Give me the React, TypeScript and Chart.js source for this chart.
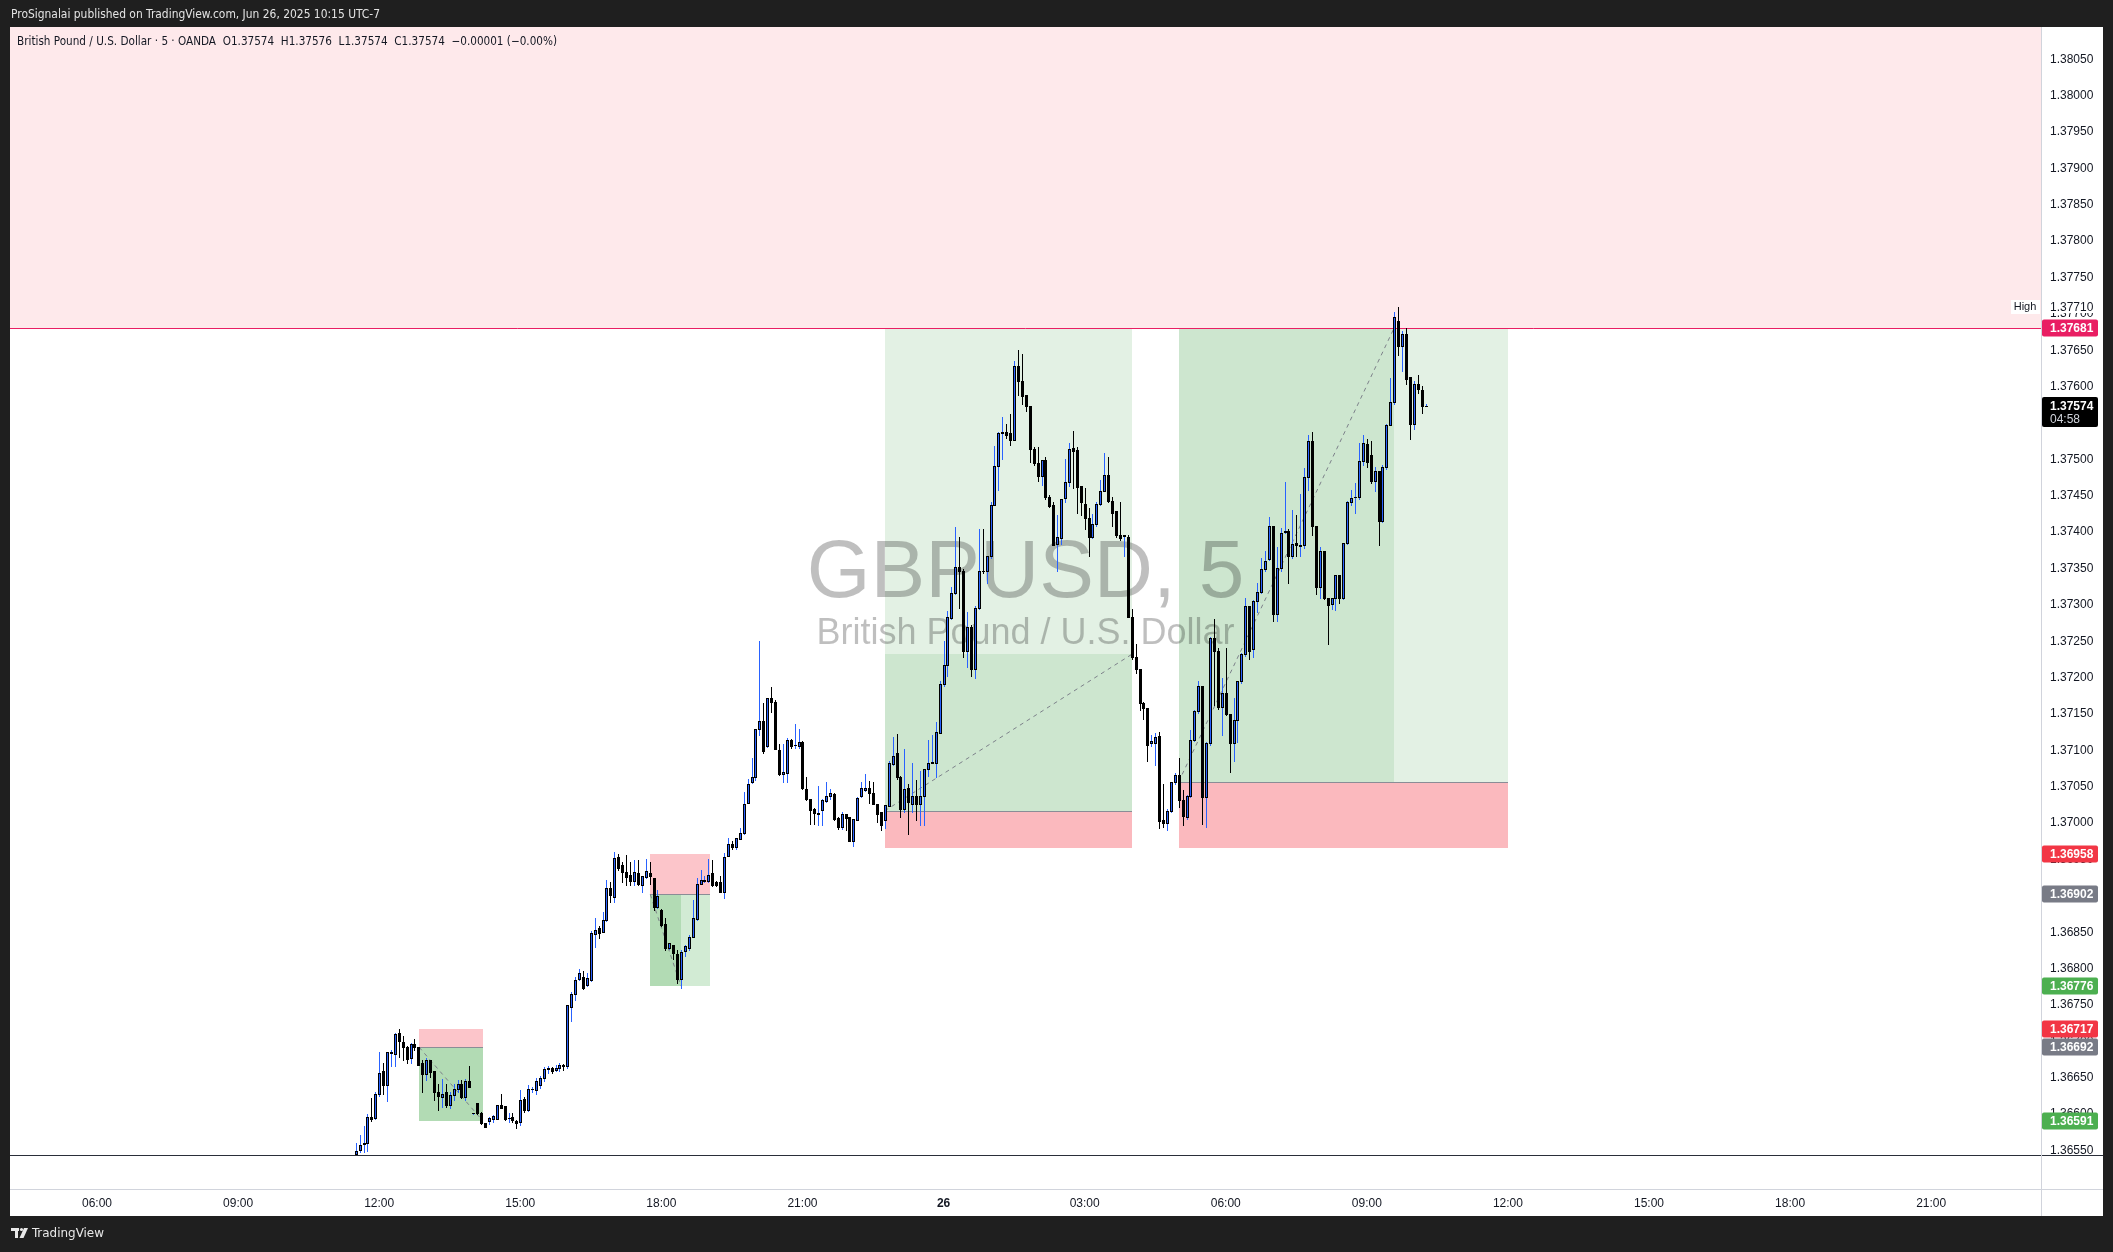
import React, { useEffect, useRef } from "react";
import { Chart, registerables } from "chart.js";

Chart.register(...registerables);

// ---------------- DATA ----------------
const SYMBOL = "GBPUSD, 5";
const SYMBOL_DESC = "British Pound / U.S. Dollar";
const HEADER_TEXT = "ProSignalai published on TradingView.com, Jun 26, 2025 10:15 UTC-7";
const LEGEND_TEXT = "British Pound / U.S. Dollar \u00b7 5 \u00b7 OANDA  O1.37574  H1.37576  L1.37574  C1.37574  \u22120.00001 (\u22120.00%)";

// first bar: Jun 25 11:30 (hours since Jun 25 00:00), 5-minute bars
const START_HOUR = 11.5;
const BAR_HOURS = 5 / 60;

// [open, high, low, close]
const OHLC: [number, number, number, number][] = [
  [1.36545, 1.3656, 1.36543, 1.3655], [1.36551, 1.36572, 1.36548, 1.36557], [1.36559, 1.36584, 1.36548, 1.3656], [1.3656, 1.366, 1.3655, 1.36596],
  [1.36596, 1.36622, 1.3659, 1.36594], [1.36595, 1.3663, 1.36594, 1.36628], [1.36628, 1.36686, 1.36625, 1.36657], [1.3666, 1.3667, 1.36628, 1.3664],
  [1.3664, 1.36686, 1.36618, 1.36685], [1.36684, 1.36688, 1.36666, 1.36685], [1.36683, 1.36711, 1.36666, 1.3671], [1.36711, 1.36717, 1.36679, 1.367],
  [1.36699, 1.36708, 1.36675, 1.36693], [1.36692, 1.36694, 1.36671, 1.36676], [1.36677, 1.36698, 1.36671, 1.36697], [1.36697, 1.36703, 1.36688, 1.36692],
  [1.36692, 1.36692, 1.36667, 1.36668], [1.3667, 1.36674, 1.36631, 1.36655], [1.36655, 1.36677, 1.36647, 1.36674], [1.36674, 1.36674, 1.36651, 1.36658],
  [1.36659, 1.3666, 1.36619, 1.3663], [1.3663, 1.36642, 1.36606, 1.36625], [1.36624, 1.36648, 1.3661, 1.36628], [1.3663, 1.36642, 1.3661, 1.36613],
  [1.36613, 1.36631, 1.36608, 1.36627], [1.36626, 1.36642, 1.3662, 1.36634], [1.36634, 1.36647, 1.3663, 1.36642], [1.36642, 1.36647, 1.36622, 1.36624],
  [1.36624, 1.36649, 1.3662, 1.36646], [1.36645, 1.36666, 1.36637, 1.36638], [1.36601, 1.36602, 1.366, 1.36601], [1.36616, 1.36616, 1.366, 1.36602],
  [1.36602, 1.36603, 1.36587, 1.36588], [1.36588, 1.36588, 1.36582, 1.36583], [1.36591, 1.36596, 1.36586, 1.36595], [1.36594, 1.36599, 1.36589, 1.36597],
  [1.36594, 1.36613, 1.36593, 1.36613], [1.36612, 1.36628, 1.36608, 1.36609], [1.36611, 1.36611, 1.36592, 1.36593], [1.36595, 1.36601, 1.36589, 1.36595],
  [1.36596, 1.36601, 1.36589, 1.36592], [1.3659, 1.36592, 1.36581, 1.36588], [1.36589, 1.36633, 1.36585, 1.3662], [1.36621, 1.36624, 1.36603, 1.36606],
  [1.36606, 1.3664, 1.36604, 1.36634], [1.36634, 1.36637, 1.3663, 1.36634], [1.36633, 1.3665, 1.36628, 1.36646], [1.3664, 1.36652, 1.36636, 1.3665],
  [1.3665, 1.36665, 1.36645, 1.36662], [1.36662, 1.36666, 1.36657, 1.36663], [1.36663, 1.36665, 1.36657, 1.3666], [1.36661, 1.36668, 1.36659, 1.36664],
  [1.36664, 1.3667, 1.3666, 1.36667], [1.36667, 1.36669, 1.36661, 1.36666], [1.36666, 1.3675, 1.36664, 1.3675], [1.36748, 1.36768, 1.36728, 1.36765],
  [1.36765, 1.36788, 1.36757, 1.36785], [1.36786, 1.368, 1.36784, 1.36794], [1.36788, 1.36797, 1.36772, 1.36774], [1.36777, 1.36794, 1.36776, 1.36787],
  [1.36785, 1.36852, 1.36783, 1.36849], [1.36847, 1.36869, 1.3683, 1.36853], [1.36856, 1.36858, 1.36842, 1.36849], [1.36851, 1.36878, 1.36851, 1.36867],
  [1.36867, 1.36922, 1.36866, 1.36911], [1.36911, 1.36919, 1.36892, 1.36901], [1.36899, 1.3696, 1.36892, 1.36952], [1.36954, 1.36958, 1.36935, 1.36939],
  [1.36942, 1.36947, 1.36919, 1.36933], [1.36933, 1.36956, 1.36915, 1.36926], [1.36929, 1.36947, 1.36915, 1.3692], [1.3692, 1.36949, 1.36915, 1.36933],
  [1.36931, 1.36949, 1.36915, 1.36916], [1.36915, 1.36927, 1.36906, 1.36927], [1.36926, 1.36951, 1.36924, 1.36934], [1.36932, 1.36947, 1.36917, 1.36927],
  [1.36924, 1.36924, 1.3688, 1.36885], [1.36885, 1.36908, 1.36883, 1.369], [1.3688, 1.36882, 1.36858, 1.3686], [1.36861, 1.36869, 1.36826, 1.36828],
  [1.36829, 1.36835, 1.36827, 1.36835], [1.36833, 1.36833, 1.36814, 1.36821], [1.3682, 1.36826, 1.3678, 1.36786], [1.36786, 1.36825, 1.36773, 1.36823],
  [1.36824, 1.36833, 1.36817, 1.36831], [1.36828, 1.36846, 1.36826, 1.36844], [1.36844, 1.36894, 1.36844, 1.36869], [1.36868, 1.36924, 1.36867, 1.36916],
  [1.36917, 1.36935, 1.36917, 1.36922], [1.36921, 1.36928, 1.36919, 1.36922], [1.36921, 1.36951, 1.36919, 1.36929], [1.36931, 1.36949, 1.36914, 1.36915],
  [1.36919, 1.36921, 1.36913, 1.36915], [1.36919, 1.36928, 1.36905, 1.36906], [1.36906, 1.36959, 1.36897, 1.36954], [1.36955, 1.36979, 1.36955, 1.36971],
  [1.36972, 1.36976, 1.36965, 1.36967], [1.36967, 1.3698, 1.36965, 1.36979], [1.36978, 1.36993, 1.36978, 1.36987], [1.36986, 1.37043, 1.36985, 1.37027],
  [1.37028, 1.37061, 1.37028, 1.37054], [1.37056, 1.37089, 1.37055, 1.37063], [1.37063, 1.37129, 1.3706, 1.37129], [1.37129, 1.37251, 1.37121, 1.3714],
  [1.3714, 1.37165, 1.37096, 1.37099], [1.37106, 1.37172, 1.37105, 1.37172], [1.37172, 1.37187, 1.37153, 1.37166], [1.37166, 1.3717, 1.37102, 1.37102],
  [1.371, 1.37109, 1.37066, 1.37067], [1.37068, 1.37109, 1.37057, 1.3707], [1.37069, 1.37117, 1.37057, 1.37114], [1.37114, 1.37116, 1.37103, 1.37106],
  [1.37108, 1.37137, 1.37103, 1.37108], [1.37106, 1.37129, 1.37104, 1.37112], [1.37112, 1.37113, 1.37047, 1.37048], [1.37047, 1.37063, 1.37032, 1.37033],
  [1.37033, 1.37033, 1.36999, 1.37018], [1.37019, 1.37021, 1.36999, 1.37014], [1.37013, 1.37051, 1.36998, 1.37014], [1.37018, 1.37033, 1.36998, 1.37032],
  [1.37031, 1.37056, 1.37029, 1.37038], [1.37038, 1.37047, 1.37033, 1.37041], [1.3704, 1.37041, 1.37005, 1.37006], [1.37007, 1.37008, 1.36992, 1.36995],
  [1.36995, 1.37015, 1.36992, 1.37013], [1.37012, 1.37013, 1.36991, 1.37007], [1.37008, 1.37008, 1.36975, 1.36976], [1.36976, 1.37006, 1.36969, 1.37006],
  [1.37005, 1.37036, 1.37004, 1.37035], [1.37037, 1.37057, 1.37036, 1.37048], [1.37045, 1.37067, 1.37044, 1.37049], [1.37048, 1.37058, 1.37028, 1.37041],
  [1.37042, 1.37057, 1.37026, 1.37027], [1.37026, 1.37026, 1.37001, 1.37013], [1.37015, 1.37015, 1.3699, 1.36997], [1.37004, 1.37025, 1.36994, 1.37025],
  [1.37024, 1.37085, 1.37023, 1.37083], [1.37081, 1.37119, 1.3708, 1.37092], [1.37096, 1.37122, 1.37061, 1.37063], [1.37063, 1.37065, 1.37008, 1.37019],
  [1.3702, 1.37102, 1.37015, 1.37047], [1.37048, 1.37054, 1.36985, 1.37029], [1.37027, 1.37083, 1.37015, 1.37038], [1.37038, 1.37059, 1.37004, 1.37027],
  [1.37027, 1.37072, 1.36997, 1.37038], [1.37037, 1.37074, 1.36997, 1.37074], [1.37074, 1.37115, 1.37065, 1.37083], [1.37083, 1.37121, 1.37083, 1.37084],
  [1.37083, 1.37139, 1.37064, 1.37125], [1.37124, 1.37195, 1.37124, 1.37191], [1.37191, 1.37251, 1.37188, 1.37218], [1.37218, 1.37291, 1.37202, 1.37283],
  [1.37282, 1.37325, 1.37281, 1.37316], [1.37316, 1.37407, 1.37315, 1.37352], [1.37352, 1.37394, 1.37296, 1.37346], [1.37346, 1.3735, 1.37228, 1.37236],
  [1.37236, 1.3729, 1.37215, 1.3727], [1.3727, 1.37272, 1.37202, 1.37212], [1.37212, 1.37298, 1.372, 1.37296], [1.37296, 1.37405, 1.37294, 1.37347],
  [1.37347, 1.37404, 1.37344, 1.37346], [1.37346, 1.37367, 1.3733, 1.37367], [1.37367, 1.37441, 1.37365, 1.37438], [1.37438, 1.37518, 1.37438, 1.37491],
  [1.37491, 1.37538, 1.37458, 1.37536], [1.37536, 1.37559, 1.375, 1.37538], [1.37538, 1.37549, 1.3753, 1.37534], [1.37536, 1.37562, 1.3752, 1.37527],
  [1.37527, 1.37635, 1.37527, 1.37628], [1.37628, 1.3765, 1.37588, 1.37608], [1.37608, 1.37645, 1.37576, 1.37587], [1.37589, 1.37589, 1.37566, 1.37574],
  [1.37574, 1.37574, 1.37496, 1.37515], [1.37515, 1.37517, 1.37493, 1.37495], [1.37495, 1.37517, 1.3747, 1.37477], [1.37477, 1.37499, 1.37465, 1.37499],
  [1.37499, 1.37503, 1.37446, 1.37448], [1.37448, 1.37451, 1.37434, 1.37436], [1.37438, 1.37441, 1.37382, 1.37383], [1.37384, 1.37424, 1.37346, 1.37394],
  [1.37392, 1.37446, 1.37384, 1.37446], [1.37447, 1.375, 1.37441, 1.37469], [1.37469, 1.37523, 1.37463, 1.37515], [1.37516, 1.37539, 1.37461, 1.37512],
  [1.37513, 1.37517, 1.37426, 1.37462], [1.37463, 1.37463, 1.37424, 1.37441], [1.37439, 1.37461, 1.37404, 1.3742], [1.3742, 1.37433, 1.37367, 1.37393],
  [1.37393, 1.37425, 1.37392, 1.37411], [1.37411, 1.37441, 1.37409, 1.37439], [1.37439, 1.37472, 1.37437, 1.37457], [1.37457, 1.37509, 1.37456, 1.37478],
  [1.37478, 1.37503, 1.37441, 1.37443], [1.37443, 1.37448, 1.37408, 1.37427], [1.37429, 1.37429, 1.37394, 1.37396], [1.37396, 1.37441, 1.37389, 1.37392],
  [1.37395, 1.37396, 1.37367, 1.37396], [1.37393, 1.37396, 1.37283, 1.37284], [1.37284, 1.37295, 1.37226, 1.37228], [1.37229, 1.37246, 1.37207, 1.37212],
  [1.37212, 1.37212, 1.37155, 1.37165], [1.37165, 1.37167, 1.37143, 1.37158], [1.37158, 1.37158, 1.37086, 1.37108], [1.3711, 1.37121, 1.37106, 1.37113],
  [1.3711, 1.37124, 1.3708, 1.37118], [1.3712, 1.37126, 1.36993, 1.37003], [1.37005, 1.37054, 1.36995, 1.37], [1.37, 1.3702, 1.3699, 1.37017],
  [1.37017, 1.37057, 1.37015, 1.37056], [1.37056, 1.37069, 1.37054, 1.37066], [1.37066, 1.3709, 1.37022, 1.37032], [1.37032, 1.37046, 1.36997, 1.3701],
  [1.37008, 1.37039, 1.37006, 1.37037], [1.37037, 1.37128, 1.37036, 1.37115], [1.37115, 1.37155, 1.37113, 1.37154], [1.37154, 1.37196, 1.37152, 1.37188],
  [1.37188, 1.37189, 1.36999, 1.37036], [1.37036, 1.37112, 1.36995, 1.3711], [1.3711, 1.37256, 1.37108, 1.37254], [1.37254, 1.3728, 1.37162, 1.37236],
  [1.37236, 1.37241, 1.37157, 1.3716], [1.3716, 1.372, 1.37121, 1.37179], [1.37179, 1.37241, 1.37149, 1.3715], [1.3715, 1.3715, 1.37071, 1.3711],
  [1.3711, 1.37172, 1.37086, 1.37142], [1.37142, 1.37196, 1.37111, 1.37195], [1.37195, 1.37234, 1.37193, 1.37232], [1.37232, 1.3731, 1.3723, 1.37299],
  [1.37298, 1.37299, 1.37226, 1.37237], [1.3724, 1.37307, 1.37228, 1.37305], [1.37305, 1.3733, 1.3729, 1.37318], [1.37318, 1.37364, 1.37316, 1.37349],
  [1.37349, 1.37374, 1.37347, 1.3736], [1.37363, 1.37421, 1.37362, 1.37408], [1.37408, 1.37409, 1.37278, 1.37288], [1.37288, 1.3738, 1.37278, 1.37351],
  [1.37351, 1.37406, 1.37347, 1.37399], [1.374, 1.37469, 1.37399, 1.37402], [1.37402, 1.37404, 1.3733, 1.37367], [1.37367, 1.37431, 1.37364, 1.37384],
  [1.37385, 1.37424, 1.37367, 1.37382], [1.37381, 1.37453, 1.37367, 1.37383], [1.37383, 1.37488, 1.37378, 1.37476], [1.37476, 1.37534, 1.37458, 1.37525],
  [1.37525, 1.37538, 1.37396, 1.37408], [1.37408, 1.37408, 1.37315, 1.37325], [1.37325, 1.3738, 1.3731, 1.37374], [1.37374, 1.37374, 1.37308, 1.37309],
  [1.3731, 1.3731, 1.37246, 1.373], [1.37301, 1.3731, 1.37294, 1.3731], [1.3731, 1.37341, 1.37293, 1.37341], [1.37341, 1.37341, 1.37303, 1.37309],
  [1.3731, 1.37385, 1.37308, 1.37385], [1.37385, 1.37443, 1.37384, 1.37442], [1.37442, 1.37458, 1.37438, 1.37447], [1.37448, 1.37467, 1.37426, 1.37449],
  [1.37448, 1.37522, 1.37446, 1.37498], [1.37498, 1.37533, 1.37493, 1.37522], [1.37521, 1.37528, 1.3749, 1.37496], [1.37506, 1.37525, 1.37468, 1.3747],
  [1.3747, 1.3749, 1.37456, 1.37484], [1.37484, 1.37484, 1.37382, 1.37416], [1.37415, 1.37492, 1.37414, 1.3749], [1.37489, 1.37549, 1.37487, 1.37548],
  [1.37548, 1.37612, 1.37547, 1.37579], [1.37579, 1.37702, 1.37576, 1.37696], [1.3769, 1.3771, 1.37643, 1.37656], [1.37656, 1.37677, 1.37621, 1.37672],
  [1.37672, 1.3768, 1.37603, 1.37611], [1.37613, 1.37613, 1.37528, 1.37549], [1.37549, 1.37608, 1.37542, 1.37603], [1.37603, 1.37616, 1.37591, 1.37597],
  [1.37596, 1.37601, 1.37564, 1.37574], [1.37574, 1.37576, 1.37574, 1.37574],
];

const X_MIN_HOUR = 4.15;
const X_MAX_HOUR = 47.335;
const Y_MIN = 1.365439;
const Y_MAX = 1.380944;

const X_TICK_HOURS = [6, 9, 12, 15, 18, 21, 24, 27, 30, 33, 36, 39, 42, 45];
const X_TICK_LABELS = ["06:00", "09:00", "12:00", "15:00", "18:00", "21:00", "26", "03:00", "06:00", "09:00", "12:00", "15:00", "18:00", "21:00"];
const Y_TICKS = [
  1.3655, 1.366, 1.3665, 1.367, 1.3675, 1.368, 1.3685, 1.369, 1.3695, 1.37, 1.3705,
  1.371, 1.3715, 1.372, 1.3725, 1.373, 1.3735, 1.374, 1.3745, 1.375, 1.3755,
  1.376, 1.3765, 1.377, 1.3775, 1.378, 1.3785, 1.379, 1.3795, 1.38, 1.3805,
];

const RESISTANCE_PRICE = 1.37681;
const DAY_HIGH = 1.3771;
const LAST_PRICE = 1.37574;
const COUNTDOWN = "04:58";

// position tools
const LONG_POSITIONS = [
  { from: 22.75, to: 28.0, entry: 1.37017, target: 1.37681, stop: 1.36966, fillTo: 28.0, fillPrice: 1.37232 },
  { from: 29.0, to: 36.0, entry: 1.37057, target: 1.37681, stop: 1.36966, fillTo: 33.583, fillPrice: 1.37681 },
];
const SHORT_POSITIONS = [
  { from: 12.85, to: 14.2, entry: 1.36692, target: 1.36591, stop: 1.36717, fillTo: 14.2, fillPrice: 1.36591 },
  { from: 17.765, to: 19.035, entry: 1.36902, target: 1.36776, stop: 1.36958, fillTo: 18.417, fillPrice: 1.36776 },
];

const AXIS_MARKERS = [
  { price: 1.37681, bg: "#e91e63" },
  { price: 1.36958, bg: "#f23645" },
  { price: 1.36902, bg: "#787b86" },
  { price: 1.36776, bg: "#4caf50" },
  { price: 1.36717, bg: "#f23645" },
  { price: 1.36692, bg: "#787b86" },
  { price: 1.36591, bg: "#4caf50" },
];

// ---------------- STYLE ----------------
const FRAME = "#1f1f1f";
const BULL = "#2962ff";
const BEAR = "#000000";
const FONT = "'Liberation Sans', Arial, sans-serif";
const NARROW = "'Liberation Sans Narrow', 'DejaVu Sans Condensed', 'Liberation Sans', sans-serif";

const TIMES = OHLC.map((_, i) => START_HOUR + i * BAR_HOURS);

function fitText(ctx: CanvasRenderingContext2D, text: string, x: number, y: number, width: number, font: string, color: string) {
  ctx.save();
  ctx.font = font;
  const w = ctx.measureText(text).width;
  ctx.translate(x, y);
  ctx.scale(width / w, 1);
  ctx.fillStyle = color;
  ctx.textAlign = "left";
  ctx.textBaseline = "middle";
  ctx.fillText(text, 0, 0);
  ctx.restore();
}

function roundRect(ctx: CanvasRenderingContext2D, x: number, y: number, w: number, h: number, r: number) {
  ctx.beginPath();
  ctx.moveTo(x + r, y);
  ctx.lineTo(x + w - r, y);
  ctx.quadraticCurveTo(x + w, y, x + w, y + r);
  ctx.lineTo(x + w, y + h - r);
  ctx.quadraticCurveTo(x + w, y + h, x + w - r, y + h);
  ctx.lineTo(x + r, y + h);
  ctx.quadraticCurveTo(x, y + h, x, y + h - r);
  ctx.lineTo(x, y + r);
  ctx.quadraticCurveTo(x, y, x + r, y);
  ctx.closePath();
}

const backgroundPlugin = {
  id: "tvBackground",
  beforeDraw(chart: any) {
    const { ctx, chartArea: a, scales } = chart;
    const y = scales.y;
    ctx.save();
    ctx.fillStyle = FRAME;
    ctx.fillRect(0, 0, chart.width, chart.height);
    ctx.fillStyle = "#ffffff";
    ctx.fillRect(10, 27, 2093, 1189);
    const yr = Math.round(y.getPixelForValue(RESISTANCE_PRICE));
    ctx.fillStyle = "#fee9eb";
    ctx.fillRect(a.left, a.top, a.right - a.left, yr - a.top);
    ctx.restore();
  },
};

function rectT(ctx: any, x: any, y: any, t0: number, t1: number, p0: number, p1: number, color: string) {
  const x0 = Math.round(x.getPixelForValue(t0));
  const x1 = Math.round(x.getPixelForValue(t1));
  const y0 = Math.round(y.getPixelForValue(Math.max(p0, p1)));
  const y1 = Math.round(y.getPixelForValue(Math.min(p0, p1)));
  ctx.fillStyle = color;
  ctx.fillRect(x0, y0, x1 - x0, y1 - y0);
}

function hline(ctx: any, x: any, y: any, t0: number, t1: number, p: number, color: string) {
  const x0 = Math.round(x.getPixelForValue(t0));
  const x1 = Math.round(x.getPixelForValue(t1));
  const yy = Math.round(y.getPixelForValue(p)) + 0.5;
  ctx.strokeStyle = color;
  ctx.lineWidth = 1;
  ctx.setLineDash([]);
  ctx.beginPath();
  ctx.moveTo(x0, yy);
  ctx.lineTo(x1, yy);
  ctx.stroke();
}

function dashed(ctx: any, x: any, y: any, t0: number, p0: number, t1: number, p1: number) {
  ctx.strokeStyle = "rgba(120,123,134,0.95)";
  ctx.lineWidth = 1;
  ctx.setLineDash([4, 4]);
  ctx.beginPath();
  ctx.moveTo(x.getPixelForValue(t0), y.getPixelForValue(p0));
  ctx.lineTo(x.getPixelForValue(t1), y.getPixelForValue(p1));
  ctx.stroke();
  ctx.setLineDash([]);
}

const annotationsPlugin = {
  id: "tvAnnotations",
  beforeDatasetsDraw(chart: any) {
    const { ctx, chartArea: a, scales } = chart;
    const { x, y } = scales;
    ctx.save();
    ctx.beginPath();
    ctx.rect(a.left, a.top, a.right - a.left, a.bottom - a.top);
    ctx.clip();

    LONG_POSITIONS.forEach((p) => {
      rectT(ctx, x, y, p.from, p.to, p.entry, p.target, "#e3f1e4");
      rectT(ctx, x, y, p.from, p.fillTo, p.entry, p.fillPrice, "#cde6cf");
      rectT(ctx, x, y, p.from, p.to, p.stop, p.entry, "#fbb9be");
      hline(ctx, x, y, p.from, p.to, p.entry, "#8a8d96");
    });
    SHORT_POSITIONS.forEach((p) => {
      rectT(ctx, x, y, p.from, p.to, p.target, p.entry, "#d2ebd4");
      rectT(ctx, x, y, p.from, p.fillTo, p.fillPrice, p.entry, "#b2dbb4");
      rectT(ctx, x, y, p.from, p.to, p.entry, p.stop, "#fcc5ca");
      hline(ctx, x, y, p.from, p.to, p.entry, "#8a8d96");
    });

    // watermark
    const cx = (a.left + a.right) / 2;
    ctx.fillStyle = "rgba(0,0,0,0.25)";
    ctx.textAlign = "center";
    ctx.textBaseline = "alphabetic";
    ctx.font = `82px ${FONT}`;
    ctx.fillText(SYMBOL, cx, 597);
    ctx.font = `36px ${FONT}`;
    ctx.fillText(SYMBOL_DESC, cx, 644);

    LONG_POSITIONS.forEach((p) => dashed(ctx, x, y, p.from, p.entry, p.fillTo, p.fillPrice));
    SHORT_POSITIONS.forEach((p) => dashed(ctx, x, y, p.from, p.entry, p.fillTo, p.fillPrice));

    hline(ctx, x, y, X_MIN_HOUR, X_MAX_HOUR, RESISTANCE_PRICE, "#e91e63");
    ctx.restore();
  },
  afterDatasetsDraw(chart: any) {
    const { ctx, chartArea: a, scales } = chart;
    const { x, y } = scales;
    ctx.save();
    ctx.beginPath();
    ctx.rect(a.left, a.top, a.right - a.left, a.bottom - a.top);
    ctx.clip();
    OHLC.forEach(([o, h, l, c], i) => {
      const cx = Math.round(x.getPixelForValue(TIMES[i]));
      const bull = c >= o;
      const yh = Math.round(y.getPixelForValue(h));
      const yl = Math.round(y.getPixelForValue(l));
      ctx.fillStyle = bull ? BULL : BEAR;
      ctx.fillRect(cx, yh, 1, Math.max(1, yl - yh + 1));
      const yt = Math.round(y.getPixelForValue(Math.max(o, c)));
      const yb = Math.round(y.getPixelForValue(Math.min(o, c)));
      const bh = Math.max(1, yb - yt + 1);
      ctx.fillStyle = "#000";
      ctx.fillRect(cx - 1, yt, 3, bh);
      if (bull && bh > 2) {
        ctx.fillStyle = BULL;
        ctx.fillRect(cx, yt + 1, 1, bh - 2);
      }
    });
    ctx.restore();
  },
  afterDraw(chart: any) {
    const { ctx, chartArea: a, scales } = chart;
    const y = scales.y;
    ctx.save();
    ctx.fillStyle = "#2a2e39";
    ctx.fillRect(10, a.bottom, 2093, 1);
    ctx.fillStyle = "#d1d4dc";
    ctx.fillRect(10, 1189, 2093, 1);
    ctx.fillRect(a.right, 27, 1, 1189);

    fitText(ctx, HEADER_TEXT, 11, 15, 369, `12px ${NARROW}`, "#e3e3e3");
    fitText(ctx, LEGEND_TEXT, 17, 42, 540, `12px ${NARROW}`, "#131722");

    const yHigh = Math.round(y.getPixelForValue(DAY_HIGH));
    ctx.fillStyle = "#ffffff";
    ctx.fillRect(2011, yHigh - 7, 29, 14);
    ctx.fillStyle = "#131722";
    ctx.font = `11px ${FONT}`;
    ctx.textBaseline = "middle";
    ctx.textAlign = "center";
    ctx.fillText("High", 2025, yHigh);
    ctx.fillStyle = "#ffffff";
    ctx.fillRect(a.right + 1, yHigh - 6, 58, 12);
    ctx.fillStyle = "#131722";
    ctx.textAlign = "left";
    ctx.font = `12px ${FONT}`;
    ctx.fillText(DAY_HIGH.toFixed(5), 2050, yHigh + 0.5);

    AXIS_MARKERS.forEach((m) => {
      const yy = Math.round(y.getPixelForValue(m.price));
      ctx.fillStyle = m.bg;
      roundRect(ctx, a.right + 1, yy - 8.5, 56, 17, 2);
      ctx.fill();
      ctx.fillStyle = "#ffffff";
      ctx.font = `bold 12px ${FONT}`;
      ctx.textAlign = "left";
      ctx.fillText(m.price.toFixed(5), 2050, yy + 0.5);
    });

    const yl = Math.round(y.getPixelForValue(LAST_PRICE));
    ctx.fillStyle = "#000000";
    roundRect(ctx, a.right + 1, yl - 9, 56, 30, 2);
    ctx.fill();
    ctx.fillStyle = "#ffffff";
    ctx.font = `bold 12px ${FONT}`;
    ctx.fillText(LAST_PRICE.toFixed(5), 2050, yl + 0.5);
    ctx.fillStyle = "#d1d4dc";
    ctx.font = `12px ${FONT}`;
    ctx.fillText(COUNTDOWN, 2050, yl + 14);

    ctx.fillStyle = "#e8e8e8";
    ctx.fillRect(11, 1228, 8, 3);
    ctx.fillRect(15, 1228, 3, 10);
    ctx.beginPath();
    ctx.arc(21.5, 1229.5, 1.6, 0, Math.PI * 2);
    ctx.fill();
    ctx.beginPath();
    ctx.moveTo(24, 1228);
    ctx.lineTo(28, 1228);
    ctx.lineTo(23.5, 1238);
    ctx.lineTo(19.5, 1238);
    ctx.closePath();
    ctx.fill();
    fitText(ctx, "TradingView", 32, 1233.5, 72, `12px ${NARROW}`, "#e8e8e8");
    ctx.restore();
  },
};

export default function App() {
  const ref = useRef<HTMLCanvasElement | null>(null);
  useEffect(() => {
    if (!ref.current) return;
    const chart = new Chart(ref.current, {
      type: "line",
      data: {
        datasets: [
          {
            label: "GBPUSD close",
            data: OHLC.map((r, i) => ({ x: TIMES[i], y: r[3] })),
            showLine: false,
            pointRadius: 0,
            borderColor: "rgba(0,0,0,0)",
            backgroundColor: "rgba(0,0,0,0)",
          },
        ],
      },
      options: {
        animation: false,
        responsive: false,
        maintainAspectRatio: false,
        events: [],
        layout: { padding: { left: 10, top: 27, right: 10, bottom: 36 } },
        plugins: { legend: { display: false }, tooltip: { enabled: false }, title: { display: false } },
        scales: {
          x: {
            type: "linear",
            position: "bottom",
            min: X_MIN_HOUR,
            max: X_MAX_HOUR,
            grid: { display: false, drawTicks: false },
            border: { display: false },
            afterBuildTicks: (s: any) => {
              s.ticks = X_TICK_HOURS.map((v) => ({ value: v }));
            },
            afterFit: (s: any) => {
              s.height = 61;
            },
            ticks: {
              autoSkip: false,
              maxRotation: 0,
              padding: 41,
              color: "#131722",
              font: (c: any) => ({ size: 12, family: FONT, weight: c.tick && c.tick.value === 24 ? "bold" : "normal" }),
              callback: (v: any) => {
                const i = X_TICK_HOURS.indexOf(Number(v));
                return i >= 0 ? X_TICK_LABELS[i] : "";
              },
            },
          },
          y: {
            type: "linear",
            position: "right",
            min: Y_MIN,
            max: Y_MAX,
            grid: { display: false, drawTicks: false },
            border: { display: false },
            afterBuildTicks: (s: any) => {
              s.ticks = Y_TICKS.map((v) => ({ value: v }));
            },
            afterFit: (s: any) => {
              s.width = 62;
            },
            ticks: {
              autoSkip: false,
              padding: 9,
              color: "#131722",
              font: { size: 12, family: FONT },
              callback: (v: any) => Number(v).toFixed(5),
            },
          },
        },
      },
      plugins: [backgroundPlugin, annotationsPlugin],
    });
    return () => chart.destroy();
  }, []);
  return (
    <div style={{ position: "fixed", left: 0, top: 0, width: 2113, height: 1252, background: FRAME }}>
      <canvas ref={ref} width={2113} height={1252} style={{ width: 2113, height: 1252, display: "block" }} />
    </div>
  );
}
